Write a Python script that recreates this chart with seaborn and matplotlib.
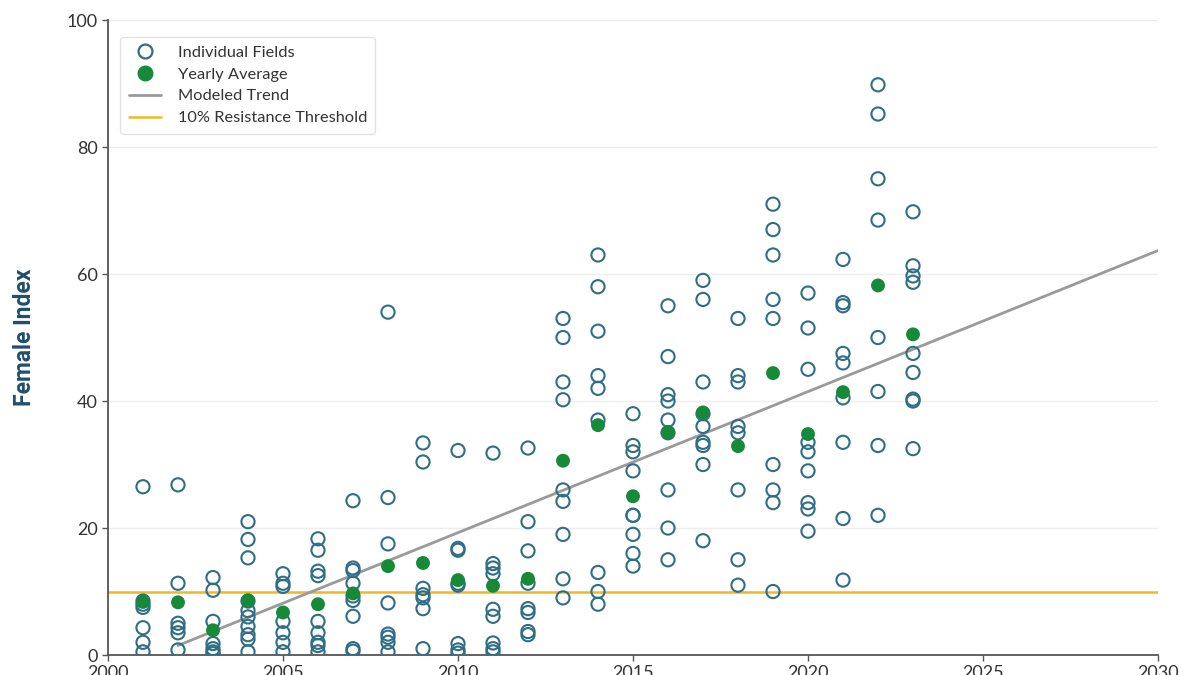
import pandas as pd
import seaborn as sns
from matplotlib import pyplot as plt
from matplotlib.lines import Line2D

# valores
years = list(range(2001, 2024))
field_values = [
    [26.5, 8.5, 8.0, 7.5, 4.3, 2.0, 0.5],
    [26.8, 11.3, 5.0, 4.3, 3.5, 0.8],
    [12.2, 10.2, 5.3, 1.8, 1.0, 0.5, 0.2],
    [21.0, 18.2, 15.3, 8.5, 7.0, 6.0, 4.5, 3.2, 2.5, 0.5],
    [12.8, 11.3, 10.8, 5.3, 3.5, 2.0, 0.5],
    [18.3, 16.5, 13.2, 12.5, 5.3, 3.5, 2.0, 1.5, 0.5],
    [24.3, 13.7, 13.3, 11.3, 9.3, 8.6, 6.1, 1.0, 0.6],
    [54.0, 24.8, 17.5, 8.2, 3.3, 2.8, 2.0, 0.5],
    [33.4, 30.4, 10.5, 9.5, 9.0, 7.3, 1.0],
    [32.2, 16.8, 16.5, 11.3, 11.0, 1.8, 0.8, 0.3],
    [31.8, 14.4, 13.7, 12.8, 7.2, 6.1, 1.9, 1.0, 0.5],
    [32.6, 21.0, 16.4, 11.3, 7.3, 6.7, 3.7, 3.2],
    [53.0, 50.0, 43.0, 40.2, 26.0, 24.2, 19.0, 12.0, 9.0],
    [63.0, 58.0, 51.0, 44.0, 42.0, 37.0, 13.0, 10.0, 8.0],
    [38.0, 33.0, 32.0, 29.0, 22.0, 22.0, 19.0, 16.0, 14.0],
    [55.0, 47.0, 41.0, 40.0, 37.0, 35.0, 26.0, 20.0, 15.0],
    [59.0, 56.0, 43.0, 38.0, 36.0, 33.5, 33.0, 30.0, 18.0],
    [53.0, 44.0, 43.0, 36.0, 35.0, 26.0, 15.0, 11.0],
    [71.0, 67.0, 63.0, 56.0, 53.0, 30.0, 26.0, 24.0, 10.0],
    [57.0, 51.5, 45.0, 33.5, 32.0, 29.0, 24.0, 23.0, 19.5],
    [62.3, 55.5, 55.0, 47.5, 46.0, 40.5, 33.5, 21.5, 11.8],
    [89.8, 85.2, 75.0, 68.5, 50.0, 41.5, 33.0, 22.0],
    [69.8, 61.3, 59.7, 58.7, 47.5, 44.5, 40.3, 40.0, 32.5],
]
yearly_avg = [8.4, 8.3, 3.9, 8.6, 6.7, 8.0, 9.7, 14.0, 14.5, 11.8, 10.9, 12.0,
              30.6, 36.2, 25.0, 35.1, 38.2, 32.9, 44.4, 34.8, 41.4, 58.2, 50.5]
trend_years = [2002, 2030]
trend_values = [1.5, 63.7]
threshold = 10

fields = pd.DataFrame(
    [(y, v) for y, vals in zip(years, field_values) for v in vals],
    columns=["year", "index"],
)
avg = pd.DataFrame({"year": years, "index": yearly_avg})
trend = pd.DataFrame({"year": trend_years, "index": trend_values})

sns.set_style("white")
plt.rcParams["font.family"] = ["Lato", "DejaVu Sans"]

circle_color = "#2f6e84"
green = "#178a3a"
gray = "#9a9a9a"
yellow = "#f0b823"

fig = plt.figure(figsize=(12, 6.75), dpi=100)
ax = fig.add_axes([0.09, 0.0296, 0.875, 0.9407])

ax.axhline(threshold, color=yellow, lw=1.8, zorder=2)
sns.lineplot(data=trend, x="year", y="index", color=gray, lw=2.0, ax=ax, zorder=2)
sns.scatterplot(data=fields, x="year", y="index", ax=ax, s=90,
                facecolor="none", edgecolor=circle_color, linewidth=1.5, zorder=3)
sns.scatterplot(data=avg, x="year", y="index", ax=ax, s=100,
                color=green, edgecolor="none", zorder=4)

ax.set_xlim(2000, 2030)
ax.set_ylim(0, 100)
ax.set_xticks(range(2000, 2031, 5))
ax.set_yticks(range(0, 101, 20))
ax.grid(axis="y", color="#eeeeee", lw=1.0)
ax.set_axisbelow(True)
ax.tick_params(axis="both", length=4, width=1, color="#555555",
               labelsize=13, labelcolor="#333333", bottom=True, left=True)
for side in ["top", "right"]:
    ax.spines[side].set_visible(False)
for side in ["left", "bottom"]:
    ax.spines[side].set_color("#555555")
    ax.spines[side].set_linewidth(1.3)

ax.set_xlabel("")
ax.set_ylabel("Female Index", fontsize=16.5, fontweight="bold", color="#1f4e6e",
              family=["Roboto", "DejaVu Sans"], labelpad=22)

handles = [
    Line2D([], [], ls="none", marker="o", markersize=10, markerfacecolor="none",
           markeredgecolor=circle_color, markeredgewidth=1.6),
    Line2D([], [], ls="none", marker="o", markersize=10.5, color=green),
    Line2D([], [], color=gray, lw=2.0),
    Line2D([], [], color=yellow, lw=1.8),
]
labels = ["Individual Fields", "Yearly Average", "Modeled Trend",
          "10% Resistance Threshold"]
leg = ax.legend(handles, labels, loc="upper left", bbox_to_anchor=(0.004, 0.986),
                fontsize=11.8, frameon=True, edgecolor="#dddddd",
                handlelength=2.0, labelspacing=0.45, borderpad=0.5,
                handletextpad=1.0)
for t in leg.get_texts():
    t.set_color("#333333")

fig.savefig("out.png", dpi=100)
